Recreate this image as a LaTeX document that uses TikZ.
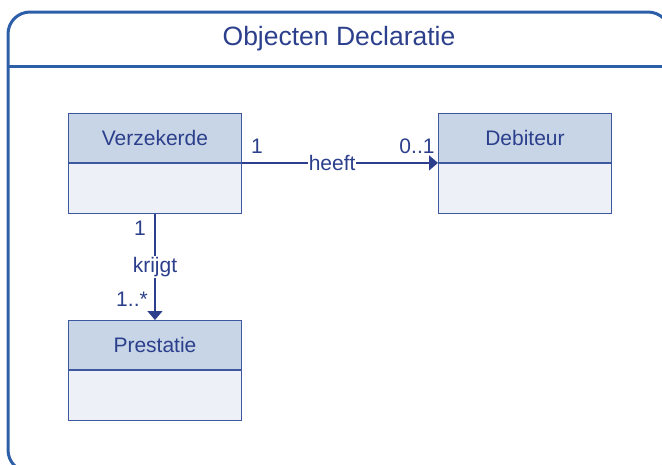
\documentclass[tikz,border=0pt]{standalone}
\usepackage{fontspec}
\setmainfont{Liberation Sans}
\usetikzlibrary{arrows.meta}
\definecolor{frameblue}{HTML}{2D5FA8}
\definecolor{txtblue}{HTML}{2B3F8C}
\definecolor{boxline}{HTML}{3D589F}
\definecolor{headfill}{HTML}{C8D5E6}
\definecolor{bodyfill}{HTML}{EDF0F6}
\tikzset{
  frame/.style={draw=frameblue, line width=3pt},
  classhead/.style={draw=boxline, fill=headfill, line width=0.9pt, minimum width=173pt, minimum height=49pt, inner sep=0pt, text=txtblue, font=\fontsize{21}{22}\selectfont, anchor=north west},
  classbody/.style={draw=boxline, fill=bodyfill, line width=0.9pt, minimum width=173pt, minimum height=50pt, inner sep=0pt, anchor=north},
  assoc/.style={draw=txtblue, line width=1.5pt, -{Triangle[length=9pt,width=15pt]}},
  lbl/.style={text=txtblue, font=\fontsize{21}{22}\selectfont, inner sep=1pt},
}
\begin{document}
\begin{tikzpicture}[x=1pt,y=-1pt]
\useasboundingbox (0,0) rectangle (662,464);
\clip (0,0) rectangle (662,464);
\draw[frame, rounded corners=22pt] (8,12) rectangle (670,472);
\draw[frame] (8,66) -- (670,66);
\node[text=txtblue, font=\fontsize{26.5}{28}\selectfont] (title) at (339,39) {Objecten Declaratie};

\node[classhead] (verzH) at (68,113) {Verzekerde};
\node[classbody] (verzB) at (verzH.south) {};
\node[classhead] (debH) at (438,113) {Debiteur};
\node[classbody] (debB) at (debH.south) {};
\node[classhead] (presH) at (68,320) {Prestatie};
\node[classbody] (presB) at (presH.south) {};

\draw[assoc] (verzH.south east) -- node[pos=0.46, fill=white, lbl] (heeft) {heeft} (debH.south west);
\draw[assoc] (verzB.south) -- node[pos=0.5, fill=white, lbl] (krijgt) {krijgt} (presH.north);

\node[lbl] (m1) at (257,146) {1};
\node[lbl] (m2) at (417,146) {0..1};
\node[lbl] (m3) at (140,228) {1};
\node[lbl] (m4) at (132,299) {1..*};
\end{tikzpicture}
\end{document}
